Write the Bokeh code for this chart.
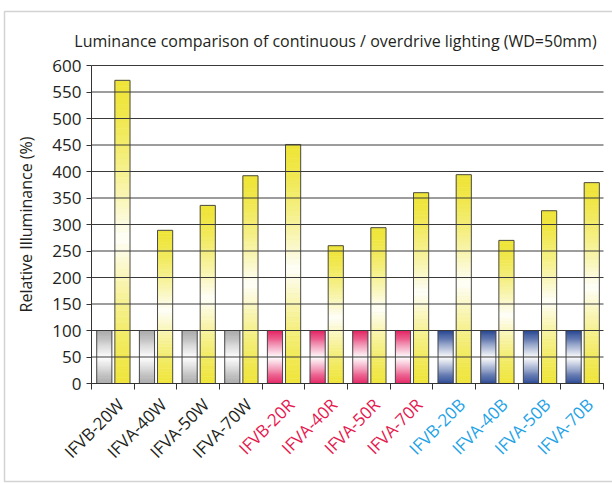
import numpy as np
from bokeh.plotting import figure
from bokeh.core.properties import value
from bokeh.models import (Range1d, FixedTicker, ColumnDataSource, LabelSet,
                          Label, BoxAnnotation, LinearAxis)
from bokeh.embed import file_html
from bokeh.resources import INLINE

# ---------------- data ----------------
categories = ["IFVB-20W", "IFVA-40W", "IFVA-50W", "IFVA-70W",
              "IFVB-20R", "IFVA-40R", "IFVA-50R", "IFVA-70R",
              "IFVB-20B", "IFVA-40B", "IFVA-50B", "IFVA-70B"]
continuous = [100, 100, 100, 100, 100, 100, 100, 100, 100, 100, 100, 100]
overdrive = [572, 289, 336, 392, 451, 260, 294, 360, 394, 270, 326, 379]
colour_group = ["W", "W", "W", "W", "R", "R", "R", "R", "B", "B", "B", "B"]
y_ticks = [0, 50, 100, 150, 200, 250, 300, 350, 400, 450, 500, 550, 600]
title_text = "Luminance comparison of continuous / overdrive lighting (WD=50mm)"
y_label = "Relative Illuminance (%)"

# ---------------- styles ----------------
FONT = "Open Sans"
TEXT = "#231f20"
bar_base = {"W": "#a6a6a6", "R": "#e3195c", "B": "#1d3e8e"}
label_col = {"W": "#231f20", "R": "#e6194f", "B": "#1fa3e6"}
YELLOW = "#efe53a"

# canvas geometry (pixels): plot area from x=91..603, y=65 (600) .. 383 (0)
CW, CH = 612, 483
PX_L, PX_R, PY_T, PY_B = 91.0, 603.0, 65.0, 383.0
n = len(categories)
sx = (PX_R - PX_L) / n          # px per category
sy = (PY_B - PY_T) / 600.0      # px per unit


def dx(px):
    return (px - PX_L) / sx


def dy(py):
    return (PY_B - py) / sy


p = figure(width=CW, height=CH, output_backend="svg", toolbar_location=None,
           x_range=Range1d(dx(0), dx(CW)), y_range=Range1d(dy(CH), dy(0)),
           x_axis_location=None, y_axis_location=None,
           min_border=0, min_border_left=0, min_border_right=0,
           min_border_top=0, min_border_bottom=0)
p.outline_line_color = None
p.background_fill_color = "white"
p.border_fill_color = "white"
p.center = []

# y axis
yaxis = LinearAxis(fixed_location=0, bounds=(0, 600),
                   ticker=FixedTicker(ticks=y_ticks))
yaxis.major_label_text_font = FONT
yaxis.major_label_text_font_size = "17px"
yaxis.major_label_text_color = TEXT
yaxis.major_label_standoff = 5
yaxis.major_tick_out = 5
yaxis.major_tick_in = 0
yaxis.minor_tick_line_color = None
yaxis.axis_line_color = "#333333"
yaxis.major_tick_line_color = "#333333"
yaxis.axis_label = y_label
yaxis.axis_label_text_font = FONT
yaxis.axis_label_text_font_size = "16px"
yaxis.axis_label_text_font_style = "normal"
yaxis.axis_label_text_color = TEXT
yaxis.axis_label_standoff = 12
p.add_layout(yaxis, "left")

# x axis (ticks between groups, labels drawn separately)
x_bounds = list(range(0, n + 1))
xaxis = LinearAxis(fixed_location=0, bounds=(0, n),
                   ticker=FixedTicker(ticks=x_bounds),
                   major_label_overrides={b: "" for b in x_bounds})
xaxis.major_tick_out = 6
xaxis.major_tick_in = 0
xaxis.minor_tick_line_color = None
xaxis.axis_line_color = "#333333"
xaxis.major_tick_line_color = "#333333"
p.add_layout(xaxis, "below")


def blend(hexc, f):
    r, g, b = int(hexc[1:3], 16), int(hexc[3:5], 16), int(hexc[5:7], 16)
    return "#%02x%02x%02x" % (round(r + (255 - r) * f),
                              round(g + (255 - g) * f),
                              round(b + (255 - b) * f))


N = 50
W = 0.355


def gradient_bars(xc, vals, cols, peak, power, fmax):
    src = dict(left=[], right=[], bottom=[], top=[], color=[])
    for x, v, c in zip(xc, vals, cols):
        for k in range(N):
            t = (k + 0.5) / N
            f = fmax * max(0.0, 1 - abs(t - peak) / 0.5) ** power
            src["left"].append(x - W / 2)
            src["right"].append(x + W / 2)
            src["bottom"].append(v * k / N)
            src["top"].append(v * (k + 1) / N)
            src["color"].append(blend(c, f))
    p.quad(left="left", right="right", bottom="bottom", top="top",
           fill_color="color", line_color="color", line_width=0.6,
           source=ColumnDataSource(src))
    p.quad(left=[x - W / 2 for x in xc], right=[x + W / 2 for x in xc],
           bottom=0, top=vals, fill_color=None, line_color="#4a4a4a",
           line_width=1)


idx = np.arange(n)
x_cont = list(idx + 0.30)
x_over = list(idx + 0.725)
gradient_bars(x_cont, continuous, [bar_base[g] for g in colour_group],
              peak=0.5, power=1.0, fmax=1.0)
gradient_bars(x_over, overdrive, [YELLOW] * n,
              peak=0.48, power=1.4, fmax=0.97)

# horizontal grid lines, drawn over the bars, spanning the category range
p.segment(x0=0, x1=n, y0=y_ticks, y1=y_ticks, line_color="#3a3a3a",
          line_width=1)

# category labels (rotated, coloured per group)
lab_src = ColumnDataSource(dict(x=list(idx + 0.5 + 0.18),
                                y=[dy(401)] * n,
                                text=categories,
                                color=[label_col[g] for g in colour_group]))
p.add_layout(LabelSet(x="x", y="y", text="text", source=lab_src,
                      angle=np.pi / 4, text_align="right",
                      text_baseline="middle", text_color="color",
                      text_font=value(FONT), text_font_size="17px"))

# title
p.add_layout(Label(x=dx(335), y=dy(40), text=title_text, text_align="center",
                   text_baseline="middle", text_font=FONT,
                   text_font_size="16px", text_color=TEXT))

# outer frame (right edge falls outside the picture, as in the reference)
p.add_layout(BoxAnnotation(left=dx(4), right=dx(616), top=dy(11),
                           bottom=dy(481), fill_alpha=0,
                           line_color="#6e6e6e", line_width=1.5))

open("out.html", "w").write(file_html(p, INLINE))
